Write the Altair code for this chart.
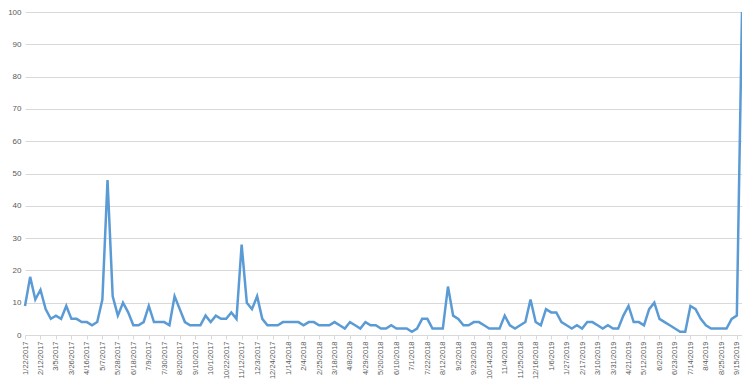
import altair as alt
import pandas as pd

start_date = "2017-01-22"
n_weeks = 140
weeks = [f"{d.month}/{d.day}/{d.year}" for d in pd.date_range(start_date, periods=n_weeks, freq="7D")]

values = [
    9, 18, 11, 14, 8, 5, 6, 5, 9, 5,
    5, 4, 4, 3, 4, 11, 48, 12, 6, 10,
    7, 3, 3, 4, 9, 4, 4, 4, 3, 12,
    8, 4, 3, 3, 3, 6, 4, 6, 5, 5,
    7, 5, 28, 10, 8, 12, 5, 3, 3, 3,
    4, 4, 4, 4, 3, 4, 4, 3, 3, 3,
    4, 3, 2, 4, 3, 2, 4, 3, 3, 2,
    2, 3, 2, 2, 2, 1, 2, 5, 5, 2,
    2, 2, 15, 6, 5, 3, 3, 4, 4, 3,
    2, 2, 2, 6, 3, 2, 3, 4, 11, 4,
    3, 8, 7, 7, 4, 3, 2, 3, 2, 4,
    4, 3, 2, 3, 2, 2, 6, 9, 4, 4,
    3, 8, 10, 5, 4, 3, 2, 1, 1, 9,
    8, 5, 3, 2, 2, 2, 2, 5, 6, 100,
]

tick_labels = weeks[::3][:47]
y_ticks = list(range(0, 101, 10))

df = pd.DataFrame({"week": weeks, "value": values})

chart = alt.Chart(df).mark_line(color="#5B9BD5", strokeWidth=2.5).encode(
    x=alt.X("week:O", sort=weeks,
            scale=alt.Scale(type="point", padding=0),
            axis=alt.Axis(values=tick_labels, title=None, labelAngle=-90,
                          labelFontSize=7.5, labelColor="#595959", labelFont="Liberation Sans",
                          domainColor="#D9D9D9", tickColor="#D9D9D9", tickSize=4,
                          labelPadding=2, grid=False)),
    y=alt.Y("value:Q", scale=alt.Scale(domain=[0, 100], nice=False),
            axis=alt.Axis(values=y_ticks, title=None, domain=False, ticks=False,
                          labelFontSize=8, labelColor="#595959", labelFont="Liberation Sans",
                          gridColor="#D9D9D9", labelPadding=4)),
).properties(
    width=717, height=323,
    autosize=alt.AutoSizeParams(type="none"),
    padding={"left": 17, "top": 4, "right": 0, "bottom": 50},
).configure_view(stroke=None)

chart.save("out.html", embed_options={"renderer": "svg", "actions": False})
